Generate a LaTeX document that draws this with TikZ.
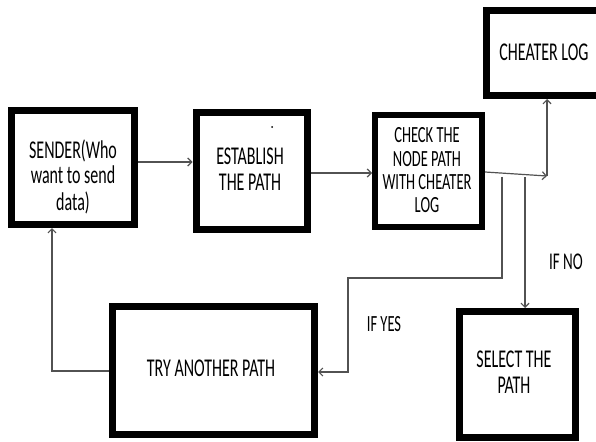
\documentclass[tikz,border=0pt]{standalone}
\usepackage{graphicx}
\usepackage{fontspec}
\setmainfont{Carlito}
\usetikzlibrary{arrows.meta}
\newcommand{\stx}[2][16]{\scalebox{1}[1.6]{\fontsize{#1}{#1}\selectfont\begin{tabular}{@{}c@{}}#2\end{tabular}}}
\begin{document}
\begin{tikzpicture}[x=1pt,y=-1pt,
  box/.style={draw=black, line width=7pt, fill=white, inner sep=0pt},
  txt/.style={inner sep=0pt, align=center},
  conn/.style={draw=black!68, line width=1.2pt, -{Straight Barb[length=4pt,width=8pt]}},
  plain/.style={draw=black!68, line width=1.2pt}]
\useasboundingbox (0,0) rectangle (596,441);
% boxes
\node[box, minimum width=123pt, minimum height=114pt] (sender) at (73,167.5) {};
\node[box, minimum width=111pt, minimum height=116.5pt] (establish) at (251.5,171) {};
\node[box, line width=6pt, minimum width=107pt, minimum height=112pt] (check) at (428.5,171) {};
\node[box, minimum width=134pt, minimum height=85pt] (cheater) at (553,53) {};
\node[box, minimum width=202pt, minimum height=128pt] (try) at (213.5,370.5) {};
\node[box, minimum width=116pt, minimum height=126pt] (select) at (517,374.5) {};
% texts
\node[txt] (senderT) at (73,178.5) {\stx{SENDER(Who\\want to send\\data)}};
\node[txt] (establishT) at (250,172.5) {\stx{ESTABLISH\\THE PATH}};
\node[txt] (checkT) at (427,173) {\stx[14.5]{CHECK THE\\NODE PATH\\WITH CHEATER\\LOG}};
\node[txt] (cheaterT) at (544,55) {\stx{CHEATER LOG}};
\node[txt] (tryT) at (211,371) {\stx{TRY ANOTHER PATH}};
\node[txt] (selectT) at (514,375.5) {\stx{SELECT THE\\PATH}};
\node[txt] (yesT) at (384,327) {\stx[14.5]{IF YES}};
\node[txt] (noT) at (566,265) {\stx[15]{IF NO}};
\fill[black] (272,127) circle (1pt);
% junction coordinates
\coordinate (j) at (547,176);
\coordinate (yes) at (502,176.5);
\coordinate (no) at (525,177);
% connectors
\draw[conn] (sender.east |- 0,162) -- (establish.west |- 0,162);
\draw[conn] (establish.east |- 0,173) -- (check.west |- 0,173);
\draw[conn] (check.east |- 0,172) -- (j);
\draw[conn] (j) -- (j |- cheater.south);
\draw[conn] (yes) -- (502,278) -- (348,278) -- (348,372) -- (try.east |- 0,372);
\draw[conn] (no) -- (no |- select.north);
\draw[conn] (try.west |- 0,371) -- (52,371) -- (52,0 |- sender.south);
\end{tikzpicture}
\end{document}
